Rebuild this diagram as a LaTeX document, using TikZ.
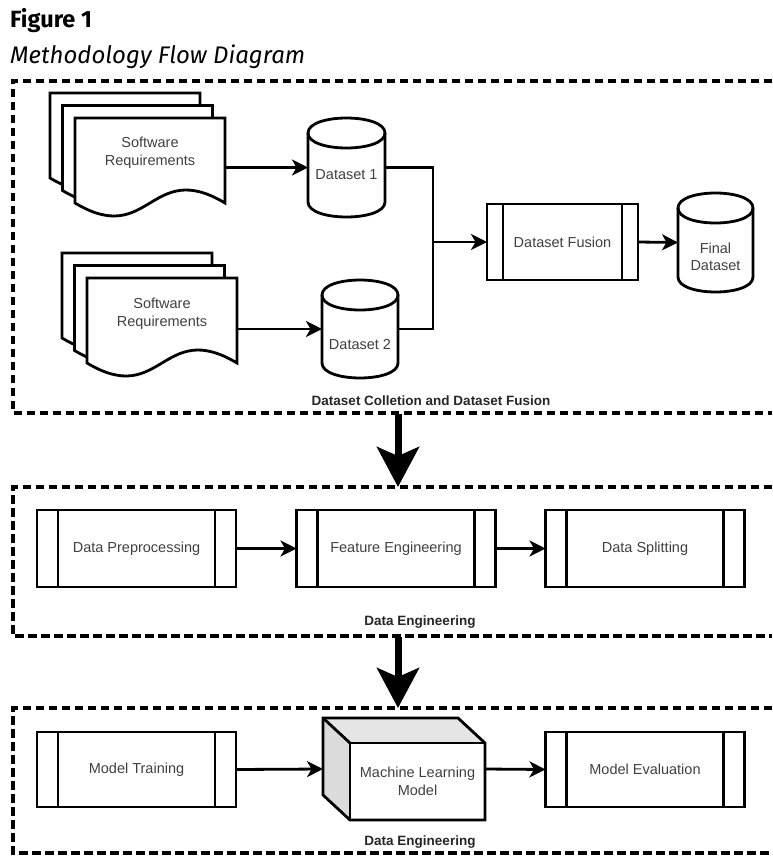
\documentclass[tikz,border=0pt]{standalone}
\usepackage{fontspec}
\setmainfont{Liberation Sans}
\newfontfamily\titlefont{Fira Sans}
\usetikzlibrary{arrows.meta}

\newcommand\docsheet[2]{%
  \pgfmathsetmacro\dsR{#1+150}\pgfmathsetmacro\dsB{#2+85}\pgfmathsetmacro\dsM{#1+75}%
  \pgfmathsetmacro\dsU{#2+85-45}\pgfmathsetmacro\dsD{#2+85+45}%
  \draw[shp, fill=white] (#1,#2) -- (\dsR,#2) -- (\dsR,\dsB) .. controls (\dsM,\dsU) and (\dsM,\dsD) .. (#1,\dsB) -- cycle;}

\newcommand\dbcyl[5]{% name, L, T, R, B
  \pgfmathsetmacro\cyA{#3+15}\pgfmathsetmacro\cyB{#5-15}%
  \pgfmathsetmacro\cyU{#3+15-20}\pgfmathsetmacro\cyD{#3+15+20}\pgfmathsetmacro\cyE{#5-15+20}%
  \pgfmathsetmacro\cyX{(#2+#4)/2}\pgfmathsetmacro\cyY{(#3+#5)/2}%
  \pgfmathsetmacro\cyW{#4-#2}\pgfmathsetmacro\cyH{#5-#3}%
  \draw[shp, fill=white] (#2,\cyA) -- (#2,\cyB) .. controls (#2,\cyE) and (#4,\cyE) .. (#4,\cyB) -- (#4,\cyA) .. controls (#4,\cyU) and (#2,\cyU) .. (#2,\cyA) -- cycle;
  \draw[shp] (#2,\cyA) .. controls (#2,\cyD) and (#4,\cyD) .. (#4,\cyA);
  \node[ghost, minimum width=\cyW pt, minimum height=\cyH pt] (#1) at (\cyX,\cyY) {};}

\newcommand\procbox[7]{% name, cx, cy, w, h, inset, text
  \node[shp, draw, fill=white, lbl, minimum width=#4pt, minimum height=#5pt, inner sep=0pt, outer sep=0pt] (#1) at (#2,#3) {#7};
  \draw[shp] ([xshift=#6pt]#1.north west) -- ([xshift=#6pt]#1.south west);
  \draw[shp] ([xshift=-#6pt]#1.north east) -- ([xshift=-#6pt]#1.south east);}

\begin{document}
\begin{tikzpicture}[x=1pt,y=-1pt,
  shp/.style={line width=2.8pt, line join=miter},
  conn/.style={line width=2.8pt, -{Stealth[length=16pt,width=16pt,inset=4.5pt]}},
  bigarrow/.style={line width=7pt, -{Stealth[length=40pt,width=42pt,inset=9pt]}},
  frame/.style={line width=4pt, dash pattern=on 8.5pt off 4.5pt},
  lbl/.style={font=\fontsize{14.5}{17.5}\selectfont, text=black!75, align=center},
  grp/.style={font=\bfseries\fontsize{13.5}{16}\selectfont, text=black!85, inner sep=0pt},
  ghost/.style={inner sep=0pt, outer sep=0pt, draw=none}]

\useasboundingbox (0,0) rectangle (772,857);

% titles
\node[anchor=base west, inner sep=0pt, font=\titlefont\bfseries\fontsize{23.5}{28}\selectfont] (fig) at (10,27) {Figure 1};
\node[anchor=base west, inner sep=0pt, font=\titlefont\itshape\fontsize{24}{28}\selectfont] (ttl) at (10,63) {Methodology Flow Diagram};

% frames
\draw[frame] (772,80.5) -- (13,80.5) -- (13,413) -- (772,413);
\draw[frame] (772,487) -- (13,487) -- (13,636) -- (772,636);
\draw[frame] (772,708) -- (13,708) -- (13,853) -- (772,853);

% stack 1
\docsheet{50}{93}
\docsheet{62.5}{105.5}
\docsheet{75}{118}
\node[lbl, minimum width=150pt, minimum height=70pt, inner sep=0pt] (sr1) at (150,153) {Software\\Requirements};
% stack 2
\docsheet{62}{253}
\docsheet{74.5}{265.5}
\docsheet{87}{278}
\node[lbl, minimum width=150pt, minimum height=70pt, inner sep=0pt] (sr2) at (162,314) {Software\\Requirements};

% cylinders
\dbcyl{d1}{308}{118}{385}{217}
\node[lbl] (d1t) at (346.5,175) {Dataset 1};
\dbcyl{d2}{322}{280}{398}{378}
\node[lbl] (d2t) at (360,345) {Dataset 2};
\dbcyl{fd}{678}{193}{753}{292}
\node[lbl] (fdt) at (715.5,257) {Final\\Dataset};

% fusion
\procbox{fus}{562.5}{242}{151}{76}{16}{Dataset Fusion}

\coordinate (jn) at (433,242);
\draw[conn] (sr1.east |- d1) -- (d1.west);
\draw[conn] (sr2.east |- d2) -- (d2.west);
\draw[shp] (d1.east) -| (jn) |- (d2.east);
\draw[conn] (jn) -- (fus.west);
\draw[conn] (fus.east) -- (fd.west);

\node[grp] (g1) at (431,401) {Dataset Colletion and Dataset Fusion};

% big arrow 1
\coordinate (f1s) at (398,414);
\coordinate (f2n) at (398,487);
\draw[bigarrow] (f1s) -- (f2n);

% row 2
\procbox{dp}{136.5}{548.5}{199}{77}{21}{Data Preprocessing}
\procbox{fe}{396}{548.5}{199}{77}{21}{Feature Engineering}
\procbox{ds}{645}{548.5}{199}{77}{21}{Data Splitting}
\draw[conn] (dp.east) -- (fe.west);
\draw[conn] (fe.east) -- (ds.west);
\node[grp] (g2) at (420,622) {Data Engineering};

% big arrow 2
\coordinate (f2s) at (398,637);
\coordinate (f3n) at (398,708);
\draw[bigarrow] (f2s) -- (f3n);

% row 3
\procbox{mt}{136.5}{769.5}{199}{75}{21}{Model Training}
\procbox{me}{645}{769.5}{199}{75}{21}{Model Evaluation}
% cube
\fill[black!10] (323,718) -- (458,718) -- (485,743) -- (350,743) -- cycle;
\fill[black!14] (323,718) -- (350,743) -- (350,820) -- (323,795) -- cycle;
\draw[shp] (323,718) -- (458,718) -- (485,743) -- (485,820) -- (350,820) -- (323,795) -- cycle;
\draw[shp] (323,718) -- (350,743);
\node[shp, draw, lbl, minimum width=135pt, minimum height=77pt, inner sep=0pt, outer sep=0pt] (ml) at (417.5,781.5) {Machine Learning\\Model};
\node[ghost, minimum width=162pt, minimum height=102pt] (mlc) at (404,769) {};
\draw[conn] (mt.east) -- (mlc.west);
\draw[conn] (mlc.east) -- (me.west);
\node[grp] (g3) at (420,842) {Data Engineering};

\end{tikzpicture}
\end{document}
